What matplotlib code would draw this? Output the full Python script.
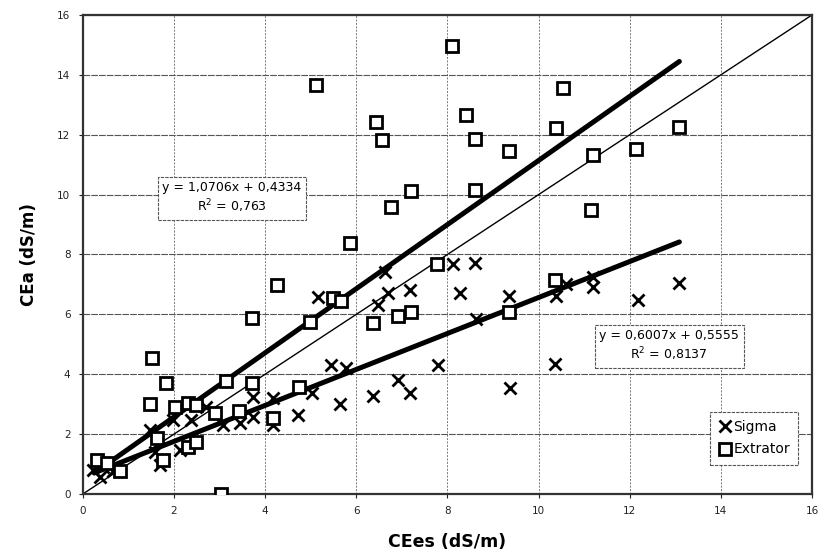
import matplotlib.pyplot as plt
import numpy as np

# Sigma (x markers)
sigma_x = [0.23, 0.45, 0.37, 0.66, 1.47, 1.58, 1.69, 1.98, 2.13, 2.38, 2.71,
           3.08, 3.44, 3.73, 3.73, 4.17, 4.17, 4.72, 5.02, 5.16, 5.45, 5.64,
           5.78, 6.37, 6.48, 6.62, 6.70, 6.92, 7.17, 7.17, 7.79, 8.12, 8.27,
           8.60, 8.63, 9.36, 9.38, 10.35, 10.39, 10.6, 11.19, 11.19, 12.18,
           13.09]
sigma_y = [0.80, 0.91, 0.58, 0.75, 2.14, 1.41, 0.97, 2.47, 1.47, 2.47, 2.92,
           2.30, 2.36, 3.25, 2.58, 3.20, 2.30, 2.64, 3.36, 6.59, 4.31, 3.01,
           4.20, 3.27, 6.31, 7.43, 6.70, 3.81, 6.81, 3.36, 4.31, 7.67, 6.70,
           7.70, 5.83, 6.61, 3.53, 4.33, 6.61, 7.0, 6.92, 7.26, 6.48,
           7.04]

# Extrator (open squares)
extr_x = [0.30, 0.52, 0.81, 1.47, 1.51, 1.62, 1.76, 1.82, 2.02, 2.31, 2.31,
          2.49, 2.49, 2.89, 3.04, 3.14, 3.43, 3.72, 3.72, 4.17, 4.25, 4.74,
          4.99, 5.12, 5.49, 5.67, 5.86, 6.37, 6.44, 6.57, 6.77, 6.92, 7.19,
          7.19, 7.76, 8.10, 8.41, 8.60, 8.60, 9.36, 9.36, 10.35, 10.39,
          10.53, 11.15, 11.19, 12.14, 13.08]
extr_y = [1.14, 1.03, 0.75, 3.00, 4.53, 1.86, 1.14, 3.72, 2.92, 3.03, 1.58,
          2.97, 1.75, 2.69, 0.00, 3.77, 2.77, 5.87, 3.70, 2.53, 6.98, 3.58,
          5.76, 13.66, 6.54, 6.46, 8.37, 5.70, 12.43, 11.82, 9.60, 5.96, 6.09,
          10.13, 7.67, 14.97, 12.66, 11.85, 10.15, 11.46, 6.09, 7.15, 12.21,
          13.55, 9.49, 11.32, 11.51, 12.27]

# trendline coefficients (slope, intercept) and x range
extr_fit = [1.0706, 0.4334]
sigma_fit = [0.6007, 0.5555]
fit_range = [0.25, 13.09]

fig = plt.figure(figsize=(8.21, 5.55), dpi=100)
ax = fig.add_axes([0.101, 0.110, 0.888, 0.863])

ax.set_xlim(0, 16)
ax.set_ylim(0, 16)
ax.set_xticks(np.arange(0, 17, 2))
ax.set_yticks(np.arange(0, 17, 2))
ax.tick_params(labelsize=7.5, length=3, pad=6, direction='out',
               colors='#222222')
ax.grid(True, axis='x', color='#777777', linestyle=(0, (2, 1.5)),
        linewidth=0.7)
ax.grid(True, axis='y', color='#555555', linestyle=(0, (6, 1)),
        linewidth=0.8)
ax.set_axisbelow(True)
for sp in ax.spines.values():
    sp.set_linewidth(1.6)
    sp.set_color('#333333')

# 1:1 line
ax.plot([0, 16], [0, 16], color='black', lw=1.0, zorder=2)

xx = np.array(fit_range)
ax.plot(xx, extr_fit[0] * xx + extr_fit[1], color='black', lw=3.6, zorder=2,
        solid_capstyle='round')
ax.plot(xx, sigma_fit[0] * xx + sigma_fit[1], color='black', lw=3.6, zorder=2,
        solid_capstyle='round')

ax.plot(sigma_x, sigma_y, 'x', color='black', ms=9, mew=2.0,
        label='Sigma', zorder=3)
ax.plot(extr_x, extr_y, 's', color='black', mfc='white', ms=8.5, mew=2.0,
        label='Extrator', zorder=3)

box = dict(boxstyle='square,pad=0.35', fc='white', ec='#555555', lw=0.8,
           linestyle=(0, (3, 1)))
ax.text(3.27, 9.89, "y = 1,0706x + 0,4334\nR$^2$ = 0,763", ha='center',
        va='center', fontsize=9, bbox=box, linespacing=1.3, zorder=4)
ax.text(12.87, 4.94, "y = 0,6007x + 0,5555\nR$^2$ = 0,8137", ha='center',
        va='center', fontsize=9, bbox=box, linespacing=1.3, zorder=4)

leg = ax.legend(loc='lower right', bbox_to_anchor=(0.985, 0.055),
                fontsize=10, handletextpad=0.1, handlelength=1.0,
                borderpad=0.6, borderaxespad=0.2, labelspacing=0.6,
                fancybox=False, edgecolor='#555555', framealpha=1)
leg.get_frame().set_linewidth(0.8)
leg.get_frame().set_linestyle((0, (3, 1)))

ax.set_xlabel("CEes (dS/m)", fontsize=12.5, fontweight='bold', labelpad=12)
ax.set_ylabel("CEa (dS/m)", fontsize=12, fontweight='bold', labelpad=14)

fig.savefig('out.png', dpi=100)
